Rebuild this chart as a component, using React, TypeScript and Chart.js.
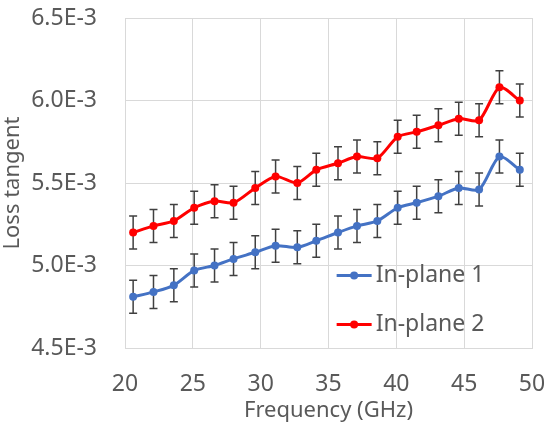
import { useEffect, useRef } from "react";
import { Chart, registerables } from "chart.js";

Chart.register(...registerables);

// ---- data ----
const frequencyGHz = [20.6, 22.1, 23.6, 25.1, 26.6, 28.0, 29.6, 31.1, 32.7, 34.1, 35.7, 37.1, 38.6, 40.1, 41.5, 43.1, 44.6, 46.1, 47.6, 49.1];
const inPlane1 = [0.00481, 0.00484, 0.00488, 0.00497, 0.005, 0.00504, 0.00508, 0.00512, 0.00511, 0.00515, 0.0052, 0.00524, 0.00527, 0.00535, 0.00538, 0.00542, 0.00547, 0.00546, 0.00566, 0.00558];
const inPlane1Err = [0.0001, 0.0001, 0.0001, 0.0001, 0.0001, 0.0001, 0.0001, 0.0001, 0.0001, 0.0001, 0.0001, 0.0001, 0.0001, 0.0001, 0.0001, 0.0001, 0.0001, 0.0001, 0.0001, 0.0001];
const inPlane2 = [0.0052, 0.00524, 0.00527, 0.00535, 0.00539, 0.00538, 0.00547, 0.00554, 0.0055, 0.00558, 0.00562, 0.00566, 0.00565, 0.00578, 0.00581, 0.00585, 0.00589, 0.00588, 0.00608, 0.006];
const inPlane2Err = [0.0001, 0.0001, 0.0001, 0.0001, 0.0001, 0.0001, 0.0001, 0.0001, 0.0001, 0.0001, 0.0001, 0.0001, 0.0001, 0.0001, 0.0001, 0.0001, 0.0001, 0.0001, 0.0001, 0.0001];
const seriesLabels = ["In-plane 1", "In-plane 2"];
const xTickValues = [20, 25, 30, 35, 40, 45, 50];
const yTickValues = [0.0045, 0.005, 0.0055, 0.006, 0.0065];
const xTitle = "Frequency (GHz)";
const yTitle = "Loss tangent";

const FONT = "'Noto Sans', 'DejaVu Sans', sans-serif";
const TEXT = "#595959";
const GRID = "#D9D9D9";
const COLORS = ["#4472C4", "#FF0000"];
const ERRORS = [inPlane1Err, inPlane2Err];

const errorBarPlugin = {
  id: "errorBars",
  beforeDatasetsDraw(chart: any) {
    const { ctx, scales } = chart;
    const x = scales.x;
    const y = scales.y;
    ctx.save();
    ctx.strokeStyle = "#404040";
    ctx.lineWidth = 1.5;
    chart.data.datasets.forEach((ds: any, di: number) => {
      const errs = ERRORS[di];
      ds.data.forEach((p: any, i: number) => {
        const px = x.getPixelForValue(p.x);
        const top = y.getPixelForValue(p.y + errs[i]);
        const bot = y.getPixelForValue(p.y - errs[i]);
        ctx.beginPath();
        ctx.moveTo(px, top);
        ctx.lineTo(px, bot);
        ctx.moveTo(px - 4, top);
        ctx.lineTo(px + 4, top);
        ctx.moveTo(px - 4, bot);
        ctx.lineTo(px + 4, bot);
        ctx.stroke();
      });
    });
    ctx.restore();
  },
};

const insideLegendPlugin = {
  id: "insideLegend",
  afterDraw(chart: any) {
    const { ctx, chartArea } = chart;
    const w = chartArea.right - chartArea.left;
    const h = chartArea.bottom - chartArea.top;
    const x0 = chartArea.left + 0.52 * w;
    const y0 = chartArea.top + 0.78 * h;
    ctx.save();
    chart.data.datasets.forEach((ds: any, i: number) => {
      const yy = y0 + i * 49;
      ctx.strokeStyle = ds.borderColor;
      ctx.lineWidth = 3;
      ctx.beginPath();
      ctx.moveTo(x0, yy);
      ctx.lineTo(x0 + 35, yy);
      ctx.stroke();
      ctx.fillStyle = ds.borderColor;
      ctx.beginPath();
      ctx.arc(x0 + 17.5, yy, 4, 0, Math.PI * 2);
      ctx.fill();
      ctx.fillStyle = TEXT;
      ctx.font = `23px ${FONT}`;
      ctx.textAlign = "left";
      ctx.textBaseline = "middle";
      ctx.fillText(ds.label, x0 + 39, yy);
    });
    ctx.restore();
  },
};

export default function App() {
  const ref = useRef<HTMLCanvasElement | null>(null);

  useEffect(() => {
    if (!ref.current) return;
    const makeData = (vals: number[]) => vals.map((v, i) => ({ x: frequencyGHz[i], y: v }));
    const chart = new Chart(ref.current, {
      type: "line",
      data: {
        datasets: [inPlane1, inPlane2].map((vals, i) => ({
          label: seriesLabels[i],
          data: makeData(vals),
          borderColor: COLORS[i],
          backgroundColor: COLORS[i],
          borderWidth: 3,
          pointRadius: 4,
          pointBorderWidth: 0,
          pointBackgroundColor: COLORS[i],
          tension: 0.25,
          fill: false,
        })),
      },
      options: {
        animation: false,
        responsive: true,
        maintainAspectRatio: false,
        layout: { padding: { top: 18, right: 23, left: 0, bottom: 0 } },
        plugins: { legend: { display: false }, tooltip: { enabled: false } },
        scales: {
          x: {
            type: "linear",
            min: 20,
            max: 50,
            afterBuildTicks: (s: any) => {
              s.ticks = xTickValues.map((v) => ({ value: v }));
            },
            afterFit: (s: any) => {
              s.height = 82;
              s.paddingLeft = 0;
              s.paddingRight = 0;
            },
            grid: { color: GRID, lineWidth: 1, drawTicks: false, tickLength: 0 },
            border: { color: GRID, width: 1 },
            ticks: {
              color: TEXT,
              font: { family: FONT, size: 23 },
              padding: 23,
              maxRotation: 0,
              callback: (v: any) => String(v),
            },
            title: {
              display: true,
              text: xTitle,
              color: TEXT,
              font: { family: FONT, size: 22 },
              padding: { top: 0, bottom: 6 },
            },
          },
          y: {
            type: "linear",
            min: 0.0045,
            max: 0.0065,
            afterBuildTicks: (s: any) => {
              s.ticks = yTickValues.map((v) => ({ value: v }));
            },
            afterFit: (s: any) => {
              s.width = 125;
              s.paddingTop = 0;
              s.paddingBottom = 0;
            },
            grid: { color: GRID, lineWidth: 1, drawTicks: false, tickLength: 0 },
            border: { color: GRID, width: 1 },
            ticks: {
              color: TEXT,
              font: { family: FONT, size: 23 },
              padding: 28,
              callback: (v: any) => (Number(v) * 1000).toFixed(1) + "E-3",
            },
            title: {
              display: true,
              text: yTitle,
              color: TEXT,
              font: { family: FONT, size: 22 },
              padding: 0,
            },
          },
        },
      },
      plugins: [errorBarPlugin, insideLegendPlugin],
    });
    return () => chart.destroy();
  }, []);

  return (
    <div style={{ position: "fixed", left: 0, top: 0, width: 555, height: 430, background: "#fff" }}>
      <canvas ref={ref} />
    </div>
  );
}
